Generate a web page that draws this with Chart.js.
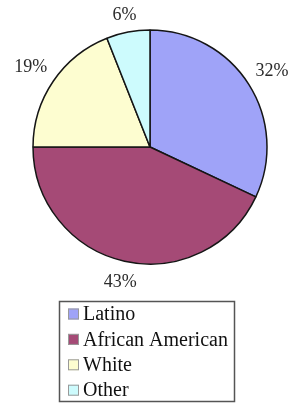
<!DOCTYPE html>
<html>
<head>
<meta charset="utf-8">
<script src="https://cdn.jsdelivr.net/npm/chart.js@4/dist/chart.umd.min.js"></script>
<style>
  html, body { margin: 0; padding: 0; background: #fff; }
  #wrap { width: 291px; height: 406px; }
</style>
</head>
<body>
<div id="wrap"><canvas id="pie" width="291" height="406"></canvas></div>
<script>
// data
const labels = ['Latino', 'African American', 'White', 'Other'];
const shares = [32, 43, 19, 6];
const colors = ['#9fa3f8', '#a54a76', '#fdfdd0', '#cdfbfd'];

const SERIF = '"Liberation Serif", "DejaVu Serif", serif';

// percent labels outside each slice
const outsideLabels = {
  id: 'outsideLabels',
  afterDatasetsDraw(chart) {
    const ctx = chart.ctx;
    const arcs = chart.getDatasetMeta(0).data;
    ctx.save();
    ctx.font = '18px ' + SERIF;
    ctx.fillStyle = '#2a2a2a';
    ctx.textAlign = 'center';
    ctx.textBaseline = 'alphabetic';
    arcs.forEach((arc, i) => {
      const { x, y, startAngle, endAngle, outerRadius } = arc.getProps(['x', 'y', 'startAngle', 'endAngle', 'outerRadius'], true);
      const mid = (startAngle + endAngle) / 2;
      const txt = shares[i] + '%';
      const w = ctx.measureText(txt).width;
      const h = 13;
      const c = Math.cos(mid), s = Math.sin(mid);
      const d = outerRadius + 10 + Math.abs(c) * w / 2 + Math.abs(s) * h / 2;
      ctx.fillText(txt, x + c * d, y + s * d + h / 2);
    });
    ctx.restore();
  }
};

// boxed legend under the pie
const boxLegend = {
  id: 'boxLegend',
  afterDraw(chart) {
    const ctx = chart.ctx;
    ctx.save();
    ctx.strokeStyle = '#555';
    ctx.lineWidth = 1.5;
    ctx.strokeRect(59.5, 301.5, 175, 100);
    ctx.font = '20px ' + SERIF;
    ctx.textBaseline = 'middle';
    labels.forEach((lab, i) => {
      const cy = 314 + i * 25.4;
      ctx.fillStyle = colors[i];
      ctx.fillRect(68, cy - 5.5, 11, 11);
      ctx.strokeStyle = '#999';
      ctx.lineWidth = 1;
      ctx.strokeRect(68.5, cy - 5, 10, 10);
      ctx.fillStyle = '#111';
      ctx.fillText(lab, 83, cy + 1);
    });
    ctx.restore();
  }
};

new Chart(document.getElementById('pie'), {
  type: 'pie',
  data: {
    labels: labels,
    datasets: [{
      data: shares,
      backgroundColor: colors,
      borderColor: '#151515',
      borderWidth: 1.5,
      hoverOffset: 0,
      radius: 117
    }]
  },
  options: {
    responsive: false,
    animation: false,
    events: [],
    layout: { padding: { left: 33, right: 24, top: 30, bottom: 142 } },
    plugins: {
      legend: { display: false },
      tooltip: { enabled: false }
    }
  },
  plugins: [outsideLabels, boxLegend]
});
</script>
</body>
</html>
